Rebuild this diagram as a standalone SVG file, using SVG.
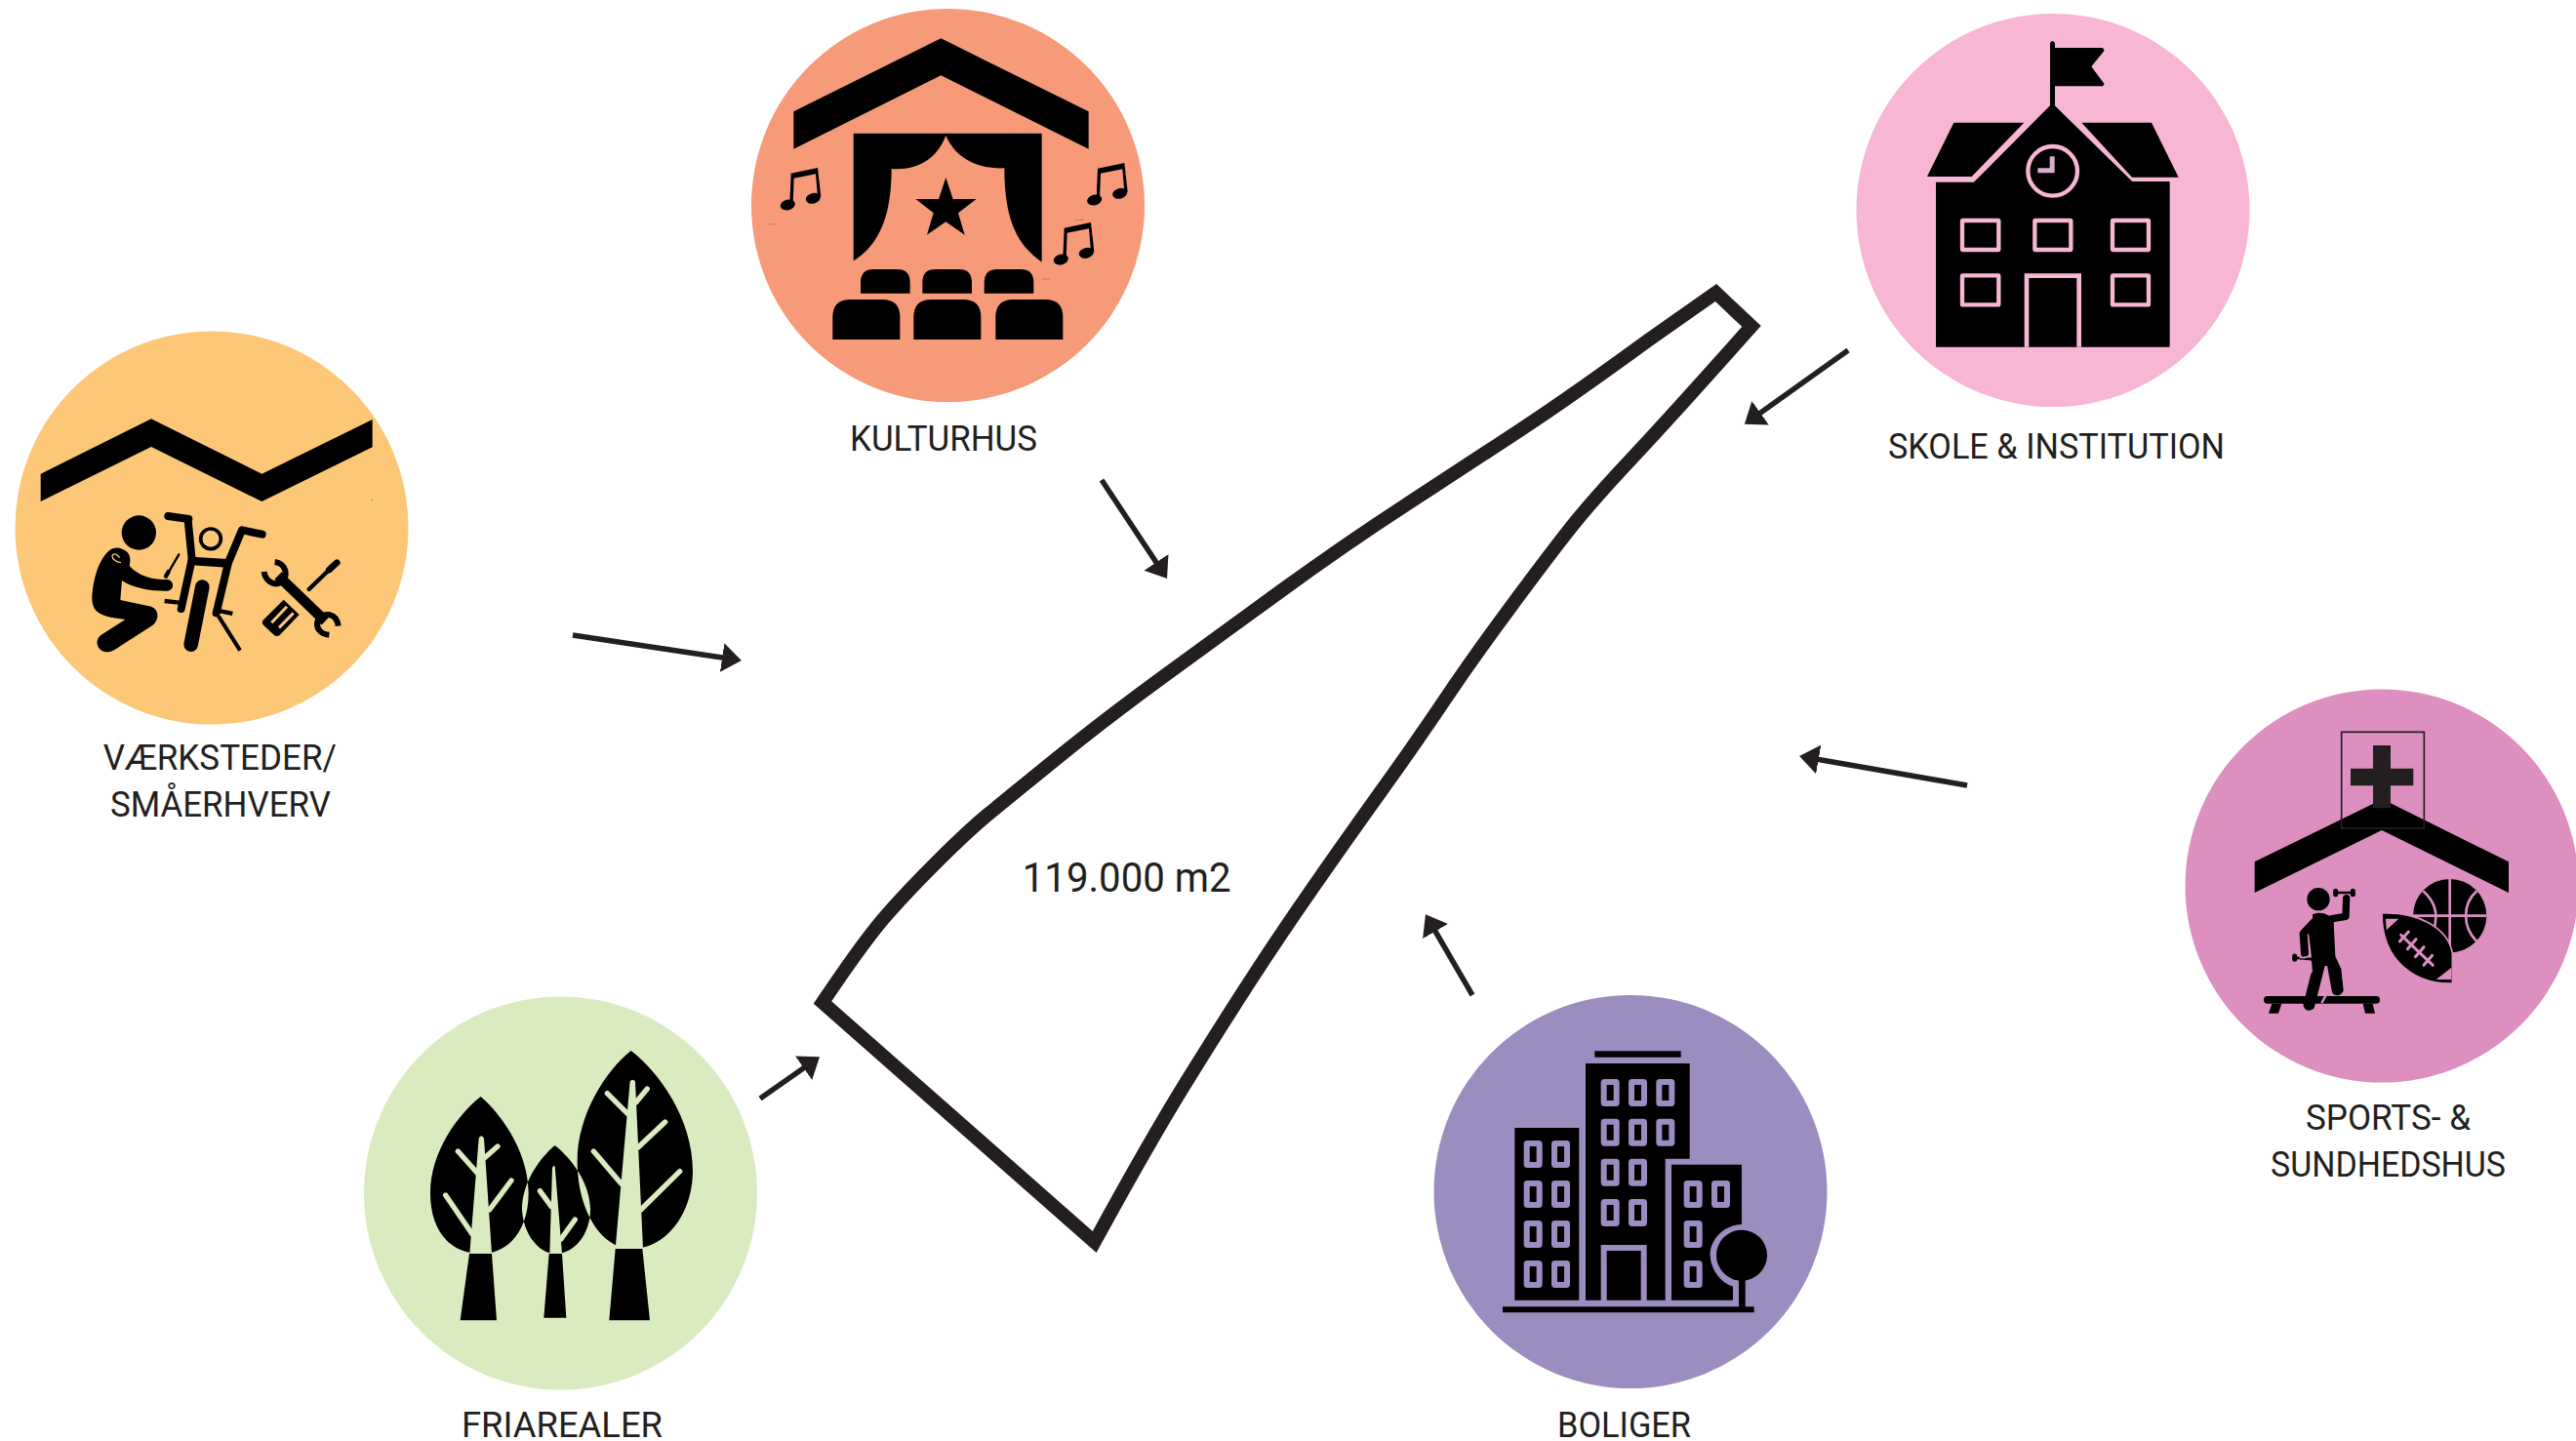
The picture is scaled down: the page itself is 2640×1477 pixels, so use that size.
<svg xmlns="http://www.w3.org/2000/svg" xmlns:xlink="http://www.w3.org/1999/xlink" width="2640" height="1477" viewBox="0 0 2640 1477">
<style>
text{font-family:Roboto,"Liberation Sans",sans-serif;font-weight:400;font-size:36.5px;fill:#231f20}
.big{font-size:43px}
.i{fill:#000}
.s{fill:none;stroke:#000;stroke-linecap:round;stroke-linejoin:round}
.conn{fill:none;stroke:#231f20;stroke-width:5.500;marker-end:url(#arrow)}
</style>
<defs>
<marker id="arrow" markerUnits="userSpaceOnUse" markerWidth="24" markerHeight="32" refX="10" refY="16" orient="auto"><path d="M0 1L20 16L0 31Z" fill="#231f20"/></marker>
<g id="note"><ellipse cx="172" cy="630" rx="23" ry="16" transform="rotate(-15 172 630)"/><ellipse cx="250" cy="610" rx="23" ry="16" transform="rotate(-15 250 610)"/><path d="M178 625L182 533L264 516L274 605L264 605L258 535L191 548L188 628Z"/></g>
<g id="win"><rect x="9" y="9" width="39" height="66" rx="2" fill="#000" stroke="#9b8dc0" stroke-width="18"/></g>
</defs>

<g id="connectors">
<path class="conn" d="M587 651L750 675.500"/>
<path class="conn" d="M1129 492L1190.500 584.700"/>
<path class="conn" d="M1894 359L1796 429"/>
<path class="conn" d="M2016 805L1853.900 776.700"/>
<path class="conn" d="M1509 1020L1466 946"/>
<path class="conn" d="M779 1126L831.800 1089"/>
</g>

<g id="plot">
<path d="M1758.500 300L1688.800 349Q1612.600 404.700 1557.800 440.900Q1503 477 1440 518Q1377 559 1312.400 606Q1247.700 653 1189.700 695.400Q1131.700 737.800 1081.900 778.200Q1032 818.600 1012.200 835Q992.400 851.400 962.600 881Q932.700 910.600 909.500 936.800Q886.200 963 843 1027.500L1121.700 1273Q1178 1170 1214.500 1111Q1251 1052 1280.900 1006Q1310.700 960 1343.900 912.300Q1377 864.600 1413.500 813.700Q1450 762.800 1479.900 718.400Q1509.700 674 1546.200 624.800Q1582.700 575.500 1605.900 545.800Q1629 516 1672 470.200Q1715 424.400 1795 334.400Z" fill="none" stroke="#231f20" stroke-width="14" stroke-miterlimit="10"/>
<text class="big" x="1047.700" y="914" textLength="214" lengthAdjust="spacingAndGlyphs">119.000 m2</text>
</g>

<g id="vaerksteder">
<circle cx="217" cy="541" r="201.500" fill="#fcc877"/>
<g transform="translate(0 320) scale(.33333)">
<path class="i" d="M125 497L465 328L805 497L1145 330V415L805 582L465 414L125 582Z"/>
<circle class="i" cx="427" cy="678" r="53"/>
<path class="i" d="M340 730C300 760 285 830 283 880C283 915 300 930 340 938L385 945L310 993C288 1010 300 1045 330 1045C345 1045 355 1037 365 1030L470 962C490 945 490 915 465 905L370 885L375 825C410 850 470 858 515 857C537 855 537 825 515 822C470 822 430 815 398 780C405 750 395 735 375 728C360 722 350 725 340 730Z"/>
<path d="M372 770C360 770 345 760 345 750C348 738 362 745 368 755" fill="none" stroke="#fcc877" stroke-width="4"/>
<path class="s" d="M550 745L518 800" stroke-width="7"/>
<path class="s" d="M518 798L510 812" stroke-width="13"/>
<path class="s" d="M517 627L580 636" stroke-width="24"/>
<path class="s" d="M806 683L745 670" stroke-width="24"/>
<path class="s" d="M578 640L590 760L557 912" stroke-width="24"/>
<path class="s" d="M743 672L702 770L665 925" stroke-width="24"/>
<path class="s" d="M590 765L700 772" stroke-width="26"/>
<circle cx="648" cy="697" r="31" fill="none" stroke="#000" stroke-width="11"/>
<path d="M622 835L585 1030" stroke="#fcc877" stroke-width="52" stroke-linecap="round"/>
<path class="s" d="M622 845L587 1022" stroke-width="44"/>
<path d="M672 935L738 1040" fill="none" stroke="#000" stroke-width="12"/>
<path d="M506 888L550 893M670 918L715 927" fill="none" stroke="#000" stroke-width="13"/>
<path d="M855 810L1000 950" fill="none" stroke="#000" stroke-width="32"/>
<path d="M845 768C880 772 890 815 862 832C840 842 815 825 812 798M1040 965C1035 925 995 920 978 945C968 970 985 990 1012 992" fill="none" stroke="#000" stroke-width="18"/>
<path class="s" d="M950 852L1012 792" stroke-width="13"/>
<path class="s" d="M1012 792L1036 770" stroke-width="20"/>
<path class="i" d="M872 884L920 930L860 993Q850 1000 842 992L810 962Q803 954 810 946Z"/>
<path d="M835 955L882 905M858 970L902 925" stroke="#fcc877" stroke-width="9"/>
<path d="M1140 578h6" stroke="#666" stroke-width="2"/>
</g>
<text x="105.700" y="789" textLength="239.300" lengthAdjust="spacingAndGlyphs">VÆRKSTEDER/</text>
<text x="113" y="836.700" textLength="226" lengthAdjust="spacingAndGlyphs">SMÅERHVERV</text>
</g>

<g id="kulturhus">
<circle cx="971.500" cy="210.500" r="201.500" fill="#f69a7a"/>
<g transform="translate(750 0) scale(.33333)">
<path class="i" d="M190 343L643 118L1097 343V458L643 232L190 458Z"/>
<path class="i" d="M374 410H953V806C880 755 838 680 838 517C760 520 690 490 658 417C630 490 570 525 491 519C491 670 450 755 374 802Z"/>
<path class="i" d="M658 546L680 612H752L696 655L716 722L658 682L600 722L620 655L565 612H636Z"/>
<path class="i" d="M396 902V868Q396 828 436 828H508Q548 828 548 868V902ZM586 902V868Q586 828 626 828H698Q738 828 738 868V902ZM776 902V868Q776 828 816 828H888Q928 828 928 868V902Z"/>
<path class="i" d="M310 1044V975Q310 921 364 921H463Q517 921 517 975V1044ZM559 1044V975Q559 921 613 921H712Q766 921 766 975V1044ZM811 1044V975Q811 921 865 921H964Q1018 921 1018 975V1044Z"/>
<use xlink:href="#note" href="#note"/>
<use xlink:href="#note" href="#note" transform="translate(943 -15)"/>
<use xlink:href="#note" href="#note" transform="translate(840 168)"/>
<path d="M113 690h26M1055 676h26M952 858h26" stroke="#a8705c" stroke-width="2"/>
</g>
<text x="871" y="461.800" textLength="192" lengthAdjust="spacingAndGlyphs">KULTURHUS</text>
</g>

<g id="skole">
<circle cx="2104" cy="215.500" r="201.500" fill="#f7b6d3"/>
<g transform="translate(1880 0) scale(.33333)">
<path class="i" d="M663 132Q670 120 678 132V325H663Z"/>
<path class="i" d="M678 147H825L830 155L790 205L830 258L825 265H678Z"/>
<path class="i" d="M367 377H583L422 543H285Z"/>
<path class="i" d="M760 377H975L1058 545H915Z"/>
<path class="i" stroke="#000" stroke-width="4" stroke-linejoin="round" d="M314 562H430L670 320L915 560H1029V1065H314Z"/>
<g fill="none" stroke="#f7b6d3" stroke-width="13">
<circle cx="671" cy="526" r="76"/>
<rect x="393" y="678" width="112" height="90" rx="2"/>
<rect x="616" y="678" width="111" height="90" rx="2"/>
<rect x="855" y="678" width="111" height="90" rx="2"/>
<rect x="393" y="847" width="112" height="90" rx="2"/>
<rect x="855" y="847" width="111" height="90" rx="2"/>
<path d="M591 1067V848H752V1067" stroke-width="14"/>
</g>
<path fill="#d9aed0" d="M625 517H662V481H677V532H625Z"/>
</g>
<text x="1935" y="470" textLength="345" lengthAdjust="spacingAndGlyphs">SKOLE &amp; INSTITUTION</text>
</g>

<g id="sports">
<circle cx="2441" cy="908" r="201.500" fill="#dd8fbf"/>
<g transform="translate(2200 700) scale(.33333)">
<path class="i" d="M332 550L700 370H750L1113 550V645L723 453L332 645Z"/>
<rect x="599" y="151" width="254" height="296" fill="none" stroke="#231f20" stroke-width="5"/>
<path fill="#231f20" d="M696 192H750V263H820V316H750V385H696V316H627V263H696Z"/>
<circle class="i" cx="528" cy="665" r="35"/>
<path class="i" d="M510 712C530 700 570 710 575 735L580 840L598 880L605 945C600 965 575 965 570 950L555 870L548 870L515 1000C500 1015 480 1005 482 985L510 890L505 825L498 770L510 740Z"/>
<path class="s" d="M570 725L612 718L614 662" stroke-width="22" stroke-linecap="butt"/>
<path class="s" d="M515 735L482 770L486 832" stroke-width="24" stroke-linecap="butt"/>
<path class="s" d="M583 645L632 645" stroke-width="8"/>
<path class="s" d="M581 640V650M634 640V650" stroke-width="15"/>
<path class="s" d="M456 845L515 850" stroke-width="8"/>
<path class="s" d="M455 840V850M514 845V855" stroke-width="15"/>
<path d="M470 842Q485 850 505 836" fill="none" stroke="#dd8fbf" stroke-width="5"/>
<rect class="i" x="360" y="963" width="357" height="23" rx="11"/>
<path class="i" d="M385 986H415L405 1016H375ZM665 986H695L702 1016H672Z"/>
<path d="M495 962L480 1005M550 962L538 985" stroke="#dd8fbf" stroke-width="7" fill="none"/>
<path class="s" d="M520 900L498 990" stroke-width="32"/>
<circle class="i" cx="932" cy="716" r="113"/>
<path d="M932 603V829M819 716H1045M850 640C895 680 895 720 880 770M1015 640C970 680 970 750 1015 795" fill="none" stroke="#dd8fbf" stroke-width="8"/>
<path class="i" stroke="#dd8fbf" stroke-width="5" d="M723 708C830 703 925 750 940 830V924C830 927 723 860 723 708Z"/>
<path d="M735 725H775L737 760ZM937 875L890 912H937Z" fill="#dd8fbf"/>
<path d="M782 775L880 868M805 765L778 795M828 788L802 818M852 812L826 842M878 838L852 868" fill="none" stroke="#dd8fbf" stroke-width="9" stroke-linecap="round"/>
</g>
<text x="2363" y="1158" textLength="169" lengthAdjust="spacingAndGlyphs">SPORTS- &amp;</text>
<text x="2327" y="1206" textLength="241" lengthAdjust="spacingAndGlyphs">SUNDHEDSHUS</text>
</g>

<g id="boliger">
<circle cx="1671" cy="1221.500" r="201.500" fill="#9b8dc0"/>
<g transform="translate(1450 1010) scale(.33333)">
<path class="i" d="M553 202H818V221H553Z"/>
<path class="i" d="M525 240H845V533H770V968H713V798H572V968H525Z"/>
<path class="i" d="M590 816H695V968H590Z"/>
<path class="i" d="M307 438H505V968H307Z"/>
<path class="i" d="M789 551H1005V735C950 735 905 785 908 830C910 880 950 920 978 925V968H789Z"/>
<circle class="i" cx="1005" cy="830" r="78"/>
<path class="i" d="M996 900H1016V990H996ZM270 988H1043V1006H270Z"/>
<use href="#win" x="572" y="288"/><use href="#win" x="657" y="288"/><use href="#win" x="742" y="288"/>
<use href="#win" x="572" y="410"/><use href="#win" x="657" y="410"/><use href="#win" x="742" y="410"/>
<use href="#win" x="572" y="533"/><use href="#win" x="657" y="533"/>
<use href="#win" x="572" y="657"/><use href="#win" x="657" y="657"/>
<use href="#win" x="335" y="477"/><use href="#win" x="420" y="477"/>
<use href="#win" x="335" y="600"/><use href="#win" x="420" y="600"/>
<use href="#win" x="335" y="723"/><use href="#win" x="420" y="723"/>
<use href="#win" x="335" y="846"/><use href="#win" x="420" y="846"/>
<use href="#win" x="827" y="600"/><use href="#win" x="912" y="600"/>
<use href="#win" x="827" y="723"/><use href="#win" x="827" y="846"/>
</g>
<text x="1596" y="1473" textLength="137" lengthAdjust="spacingAndGlyphs">BOLIGER</text>
</g>

<g id="friarealer">
<circle cx="574.500" cy="1223" r="201.500" fill="#dbebc0"/>
<g transform="translate(360 1010) scale(.33333)">
<path class="i" fill-rule="evenodd" d="M398 342C330 395 243 510 243 640C243 750 300 825 398 825C490 825 545 745 545 640C545 510 460 395 398 342ZM626 492C575 535 525 610 525 690C530 770 580 825 626 825C690 825 735 760 735 690C735 610 680 535 626 492ZM860 201C780 265 695 400 695 540C695 700 775 810 860 810C970 810 1050 700 1050 570C1050 410 945 265 860 201Z"/>
<g fill="#dbebc0">
<path d="M392 470Q400 455 408 470L432 825H364Z"/>
<path d="M618 560Q622 553 626 556L648 825H610Z"/>
<path d="M857 295Q865 285 873 295L897 810H812Z"/>
</g>
<path d="M328 510L390 580M450 495L410 530M290 645L372 765M492 600L425 690M580 632L615 680M688 720L645 780M787 332L850 395M910 318L875 360M965 420L882 498M745 510L830 610M1010 572L890 690" fill="none" stroke="#dbebc0" stroke-width="16" stroke-linecap="round"/>
<path class="i" d="M363 825H432L447 1030H335ZM608 825H648L661 1022H592ZM812 810H895L918 1030H793Z"/>
</g>
<text x="473" y="1473" textLength="206" lengthAdjust="spacingAndGlyphs">FRIAREALER</text>
</g>
</svg>
